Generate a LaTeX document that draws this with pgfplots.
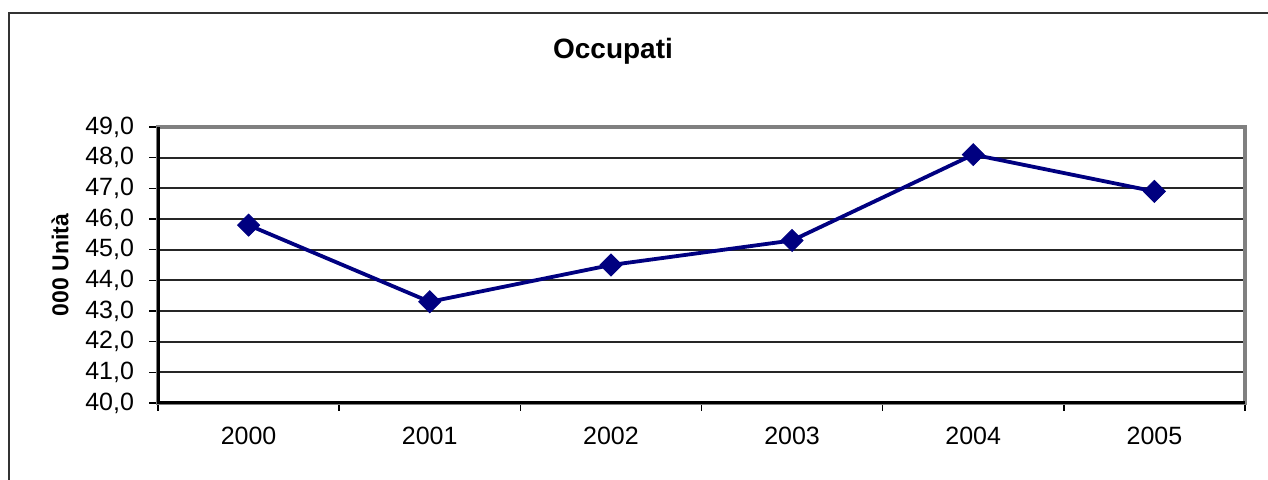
\documentclass[border=0pt]{standalone}
\usepackage{pgfplots}
\pgfplotsset{compat=1.18}
\usepackage{fontspec}
\setmainfont{Liberation Sans}

\definecolor{excelnavy}{RGB}{0,0,128}
\definecolor{excelgray}{RGB}{128,128,128}

\begin{document}
\begin{tikzpicture}
    % pagina: 634 x 240 pt (2 px per pt)
    \useasboundingbox (0,0) rectangle (634pt,240pt);
    % cornice esterna del grafico
    \draw[black!80, line width=1pt] (4.5pt,-5pt) -- (4.5pt,233.5pt) -- (640pt,233.5pt);

    \begin{axis}[
        at={(79pt,38.5pt)}, anchor=south west,
        scale only axis,
        width=543.5pt, height=138pt,
        xmin=-0.5, xmax=5.5,
        ymin=40, ymax=49,
        xtick={0,1,2,3,4,5},
        xticklabels={2000,2001,2002,2003,2004,2005},
        minor xtick={-0.5,0.5,1.5,2.5,3.5,4.5,5.5},
        major x tick style={draw=none},
        minor x tick style={black, line width=0.7pt},
        ytick={40,41,...,49},
        y tick style={black, line width=0.7pt},
        xtick pos=bottom, ytick pos=left,
        tick align=outside,
        major tick length=4.5pt,
        minor tick length=4pt,
        ymajorgrids=true,
        grid style={black!85, line width=0.9pt},
        axis line style={excelgray, line width=2pt},
        tick label style={font=\fontsize{12.5}{14}\selectfont},
        xticklabel style={yshift=-4pt},
        yticklabel style={xshift=-4pt},
        /pgf/number format/.cd, use comma, fixed, fixed zerofill, precision=1, assume math mode=true,
        /pgfplots/.cd,
        title={Occupati},
        title style={at={(0.4186,1.232)}, anchor=center, font=\fontsize{14}{16}\selectfont\bfseries},
        ylabel={000 Unità},
        ylabel style={at={(axis description cs:-0.0902,0.5)}, anchor=center, font=\fontsize{11.5}{13}\selectfont\bfseries},
        clip=false,
        after end axis/.code={
            \draw[black, line width=1.5pt] (rel axis cs:0,1) -- (rel axis cs:0,0) -- (rel axis cs:1,0);
        },
    ]
    \addplot[excelnavy, line width=1.9pt, mark=square*, mark size=3.9pt,
             mark options={rotate=45, solid, line width=0.4pt}]
        coordinates {(0,45.8) (1,43.3) (2,44.5) (3,45.3) (4,48.1) (5,46.9)};
    \end{axis}
\end{tikzpicture}
\end{document}
